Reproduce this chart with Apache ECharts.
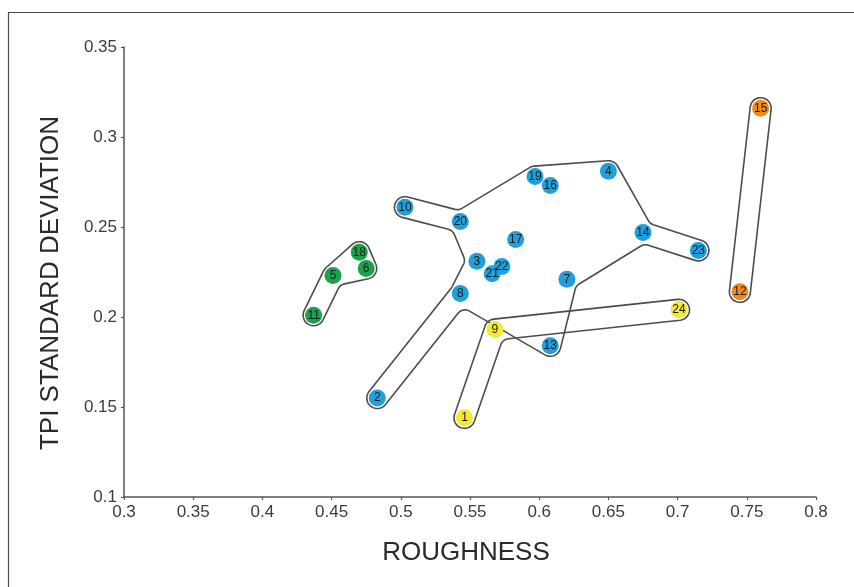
<!DOCTYPE html>
<html>
<head>
<meta charset="utf-8">
<script src="https://cdn.jsdelivr.net/npm/echarts@6/dist/echarts.min.js"></script>
<style>
  html, body {margin: 0; padding: 0; background: #fff;}
  #chart {width: 854px; height: 587px;}
</style>
</head>
<body>
<div id="chart"></div>
<script>
// sample number -> roughness / TPI std deviation / group
const sampleIds = [1, 2, 3, 4, 5, 6, 7, 8, 9, 10, 11, 12, 13, 14, 15, 16, 17, 18, 19, 20, 21, 22, 23, 24]
const roughness = [0.546, 0.483, 0.555, 0.650, 0.451, 0.475, 0.620, 0.543, 0.568, 0.503, 0.437, 0.745,
    0.608, 0.675, 0.760, 0.608, 0.583, 0.470, 0.597, 0.543, 0.566, 0.573, 0.715, 0.701]
const tpiStd = [0.144, 0.155, 0.231, 0.281, 0.223, 0.227, 0.221, 0.213, 0.193, 0.261, 0.201, 0.214,
    0.184, 0.247, 0.316, 0.273, 0.243, 0.236, 0.278, 0.253, 0.224, 0.228, 0.237, 0.204]
const groupOf = ["yellow", "blue", "blue", "blue", "green", "green", "blue", "blue", "yellow", "blue", "green", "orange",
    "blue", "blue", "orange", "blue", "blue", "green", "blue", "blue", "blue", "blue", "blue", "yellow"]

const xTicks = {min: 0.3, max: 0.8, step: 0.05}
const yTicks = {min: 0.1, max: 0.35, step: 0.05}

// outline paths (sample numbers, walked round each group)
const blueLoop = [2, 8, 3, 20, 10, 20, 19, 4, 14, 23, 14, 7, 13, 8]
const greenLoop = [11, 5, 18, 6, 5]
const yellowLoop = [1, 9, 24, 9]
const orangeLoop = [12, 15]
const loops = [blueLoop, greenLoop, yellowLoop, orangeLoop]

const groupColors = {blue: "#1f9fdc", green: "#1ba34b", yellow: "#f1e934", orange: "#f0891e"}
const FONT = "Liberation Sans, Arial, sans-serif"

const pointOf = (id) => [roughness[id - 1], tpiStd[id - 1]]

function arc(out, c, rad, a1, a2) {
    const steps = Math.max(2, Math.ceil(Math.abs(a2 - a1) / (Math.PI / 24)))
    for (let k = 0; k <= steps; k++) {
        const a = a1 + (a2 - a1) * k / steps
        out.push([c[0] + rad * Math.cos(a), c[1] + rad * Math.sin(a)])
    }
}

// offset a closed walk of pixel points to its outer side, round on every turn
function outline(pts, r, fillet) {
    let area = 0
    for (let i = 0; i < pts.length; i++) {
        const a = pts[i], b = pts[(i + 1) % pts.length]
        area += a[0] * b[1] - b[0] * a[1]
    }
    if (area < 0) pts = pts.slice().reverse()
    const n = pts.length
    const out = []
    for (let i = 0; i < n; i++) {
        const p = pts[i], prev = pts[(i - 1 + n) % n], next = pts[(i + 1) % n]
        let d1 = [p[0] - prev[0], p[1] - prev[1]], d2 = [next[0] - p[0], next[1] - p[1]]
        const l1 = Math.hypot(d1[0], d1[1]), l2 = Math.hypot(d2[0], d2[1])
        d1 = [d1[0] / l1, d1[1] / l1]
        d2 = [d2[0] / l2, d2[1] / l2]
        const n1 = [d1[1], -d1[0]], n2 = [d2[1], -d2[0]]
        const cross = d1[0] * d2[1] - d1[1] * d2[0]
        const dot = d1[0] * d2[0] + d1[1] * d2[1]
        if (cross > 1e-6 || (Math.abs(cross) <= 1e-6 && dot < 0)) {
            const a1 = Math.atan2(n1[1], n1[0])
            let a2 = Math.atan2(n2[1], n2[0])
            while (a2 < a1 + 1e-9) a2 += Math.PI * 2
            if (a2 - a1 > Math.PI * 2 - 1e-6) a2 = a1 + Math.PI
            arc(out, p, r, a1, a2)
        } else if (cross < -1e-6) {
            // concave: small fillet tangent to both offset edges
            const f = (r + fillet) / (1 + dot)
            const c = [p[0] + (n1[0] + n2[0]) * f, p[1] + (n1[1] + n2[1]) * f]
            const a1 = Math.atan2(-n1[1], -n1[0])
            let a2 = Math.atan2(-n2[1], -n2[0])
            while (a2 > a1 - 1e-9) a2 -= Math.PI * 2
            arc(out, c, fillet, a1, a2)
        } else {
            out.push([p[0] + n1[0] * r, p[1] + n1[1] * r])
        }
    }
    return out
}

const groupSeries = ["blue", "green", "yellow", "orange"].map((g) => ({
    type: "scatter",
    z: 3,
    symbol: "circle",
    symbolSize: 17,
    itemStyle: {color: groupColors[g], opacity: 1},
    label: {
        show: true,
        position: "inside",
        formatter: (p) => String(p.value[2]),
        color: "#1e1e1e",
        fontSize: 12,
        fontFamily: FONT
    },
    data: sampleIds.filter((id) => groupOf[id - 1] === g).map((id) => [...pointOf(id), id])
}))

const axisCommon = {
    type: "value",
    splitLine: {show: false},
    axisLine: {onZero: false, lineStyle: {color: "#555", width: 1.5}},
    axisTick: {show: true, inside: false, length: 3, lineStyle: {color: "#555", width: 1.2}},
    axisLabel: {color: "#3c3c3c", fontSize: 17, fontFamily: FONT, margin: 7}
}

const option = {
    animation: false,
    backgroundColor: "#fff",
    grid: {left: 124, right: 38, top: 47, bottom: 90, containLabel: false},
    xAxis: {...axisCommon, min: xTicks.min, max: xTicks.max, interval: xTicks.step},
    yAxis: {...axisCommon, min: yTicks.min, max: yTicks.max, interval: yTicks.step},
    graphic: [
        {type: "rect", silent: true, shape: {x: 8.5, y: 12.5, width: 900, height: 700},
            style: {fill: "none", stroke: "#4a4a4a", lineWidth: 1.2}},
        {type: "text", x: 51, y: 283, rotation: Math.PI / 2, silent: true,
            style: {text: "TPI STANDARD DEVIATION", fill: "#2a2a2a", font: "26px " + FONT,
                textAlign: "center", textVerticalAlign: "middle"}},
        {type: "text", x: 466, y: 553, silent: true,
            style: {text: "ROUGHNESS", fill: "#2a2a2a", font: "26px " + FONT,
                textAlign: "center", textVerticalAlign: "middle"}}
    ],
    series: [
        {
            type: "custom",
            z: 1,
            silent: true,
            clip: false,
            data: loops.map((l, i) => [i]),
            renderItem: (params, api) => {
                const pts = loops[params.dataIndex].map((id) => api.coord(pointOf(id)))
                return {
                    type: "polygon",
                    shape: {points: outline(pts, 10.5, 9)},
                    style: {fill: "none", stroke: "#4d4d4d", lineWidth: 1.6}
                }
            }
        },
        ...groupSeries
    ]
}

const chart = echarts.init(document.getElementById("chart"))
chart.setOption(option)
</script>
</body>
</html>
